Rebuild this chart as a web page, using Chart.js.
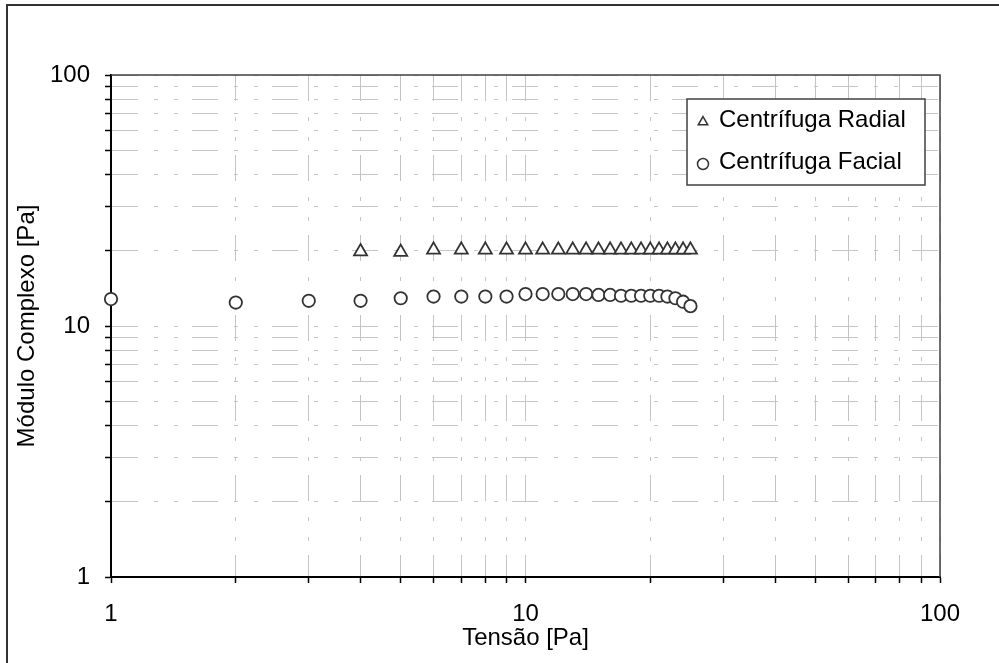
<!DOCTYPE html>
<html>
<head>
<meta charset="utf-8">
<title>Módulo Complexo x Tensão</title>
<script src="https://cdn.jsdelivr.net/npm/chart.js@4.4.1/dist/chart.umd.min.js"></script>
<style>
	html, body { margin: 0; padding: 0; background: #fff; }
	canvas { display: block; }
</style>
</head>
<body>
<canvas id="myChart" width="999" height="663"></canvas>
<script>
// data
var radialTension = [4,5,6,7,8,9,10,11,12,13,14,15,16,17,18,19,20,21,22,23,24,25];
var radialModulo  = [19.8,19.7,20.1,20.1,20.1,20.1,20.1,20.1,20.1,20.1,20.1,20.1,20.1,20.1,20.1,20.1,20.1,20.1,20.1,20.1,20.1,20.1];

var facialTension = [1,2,3,4,5,6,7,8,9,10,11,12,13,14,15,16,17,18,19,20,21,22,23,24,25];
var facialModulo  = [12.8,12.4,12.6,12.6,12.9,13.1,13.1,13.1,13.1,13.4,13.4,13.4,13.4,13.4,13.3,13.3,13.2,13.2,13.2,13.2,13.2,13.1,12.9,12.5,12.0];

var tickValues  = [1,2,3,4,5,6,7,8,9,10,20,30,40,50,60,70,80,90,100];
var tickLabels  = [1,10,100];
var seriesNames = ['Centrífuga Radial','Centrífuga Facial'];

!(function(){
	'use strict';

	var FONT = 'Liberation Sans, Arial, sans-serif';
	var INK = '#333333';

	function toPoints(xs, ys){
		var pts = [];
		for (var i = 0; i < xs.length; i++) {
			pts.push({x: xs[i], y: ys[i]});
		}
		return pts;
	}

	function logTicks(scale){
		scale.ticks = tickValues.map(function(v){ return {value: v}; });
	}

	function tickLabel(value){
		return tickLabels.indexOf(value) > -1 ? String(value) : '';
	}

	var gridDash = [26,16,4,16,4,14];

	// page frame, plot box and legend box
	var framePlugin = {
		id: 'frame',
		afterDraw: function(chart){
			var ctx = chart.ctx, a = chart.chartArea;
			ctx.save();
			ctx.strokeStyle = INK;
			ctx.lineWidth = 2;
			ctx.beginPath();
			ctx.moveTo(7, 663);
			ctx.lineTo(7, 5);
			ctx.lineTo(999, 5);
			ctx.stroke();

			ctx.strokeStyle = '#404040';
			ctx.lineWidth = 1.5;
			ctx.beginPath();
			ctx.moveTo(a.left, a.top);
			ctx.lineTo(a.right, a.top);
			ctx.lineTo(a.right, a.bottom);
			ctx.stroke();

			// legend
			var lx = 687, ly = 99, lw = 238, lh = 86;
			ctx.fillStyle = '#fff';
			ctx.fillRect(lx, ly, lw, lh);
			ctx.strokeStyle = '#404040';
			ctx.lineWidth = 1.5;
			ctx.strokeRect(lx, ly, lw, lh);

			ctx.font = '24px ' + FONT;
			ctx.textBaseline = 'middle';
			ctx.textAlign = 'left';
			chart.data.datasets.forEach(function(ds, i){
				var y = ly + 21 + i * 42;
				ctx.strokeStyle = INK;
				ctx.fillStyle = '#fff';
				ctx.lineWidth = 1.5;
				Chart.helpers.drawPoint(ctx, {pointStyle: ds.pointStyle, radius: 5.5, rotation: 0, borderWidth: 1.5}, 703, y + 2);
				ctx.fillStyle = '#000';
				ctx.fillText(ds.label, 719, y);
			});
			ctx.restore();
		}
	};

	var ctx = document.getElementById('myChart').getContext('2d');
	var myChart = new Chart(ctx, {
		type: 'scatter',
		data: {
			datasets: [{
				label: seriesNames[0],
				data: toPoints(radialTension, radialModulo),
				pointStyle: 'triangle',
				pointRadius: 7.5,
				pointHoverRadius: 7.5,
				pointBorderWidth: 1.8,
				pointBorderColor: INK,
				pointBackgroundColor: '#fff',
				showLine: false,
				clip: false
			}, {
				label: seriesNames[1],
				data: toPoints(facialTension, facialModulo),
				pointStyle: 'circle',
				pointRadius: 6.2,
				pointHoverRadius: 6.2,
				pointBorderWidth: 1.8,
				pointBorderColor: INK,
				pointBackgroundColor: '#fff',
				showLine: false,
				clip: false
			}]
		},
		options: {
			responsive: false,
			animation: false,
			devicePixelRatio: 1,
			layout: { padding: { top: 75, right: 59, left: 0, bottom: 0 } },
			plugins: {
				legend: { display: false },
				tooltip: { enabled: false }
			},
			scales: {
				x: {
					type: 'logarithmic',
					min: 1,
					max: 100,
					afterBuildTicks: logTicks,
					afterFit: function(scale){ scale.height = 86; },
					ticks: {
						callback: tickLabel,
						autoSkip: false,
						maxRotation: 0,
						padding: 17,
						color: '#000',
						font: { family: FONT, size: 24 }
					},
					grid: {
						color: '#c4c4c4',
						lineWidth: 1,
						tickLength: 6,
						tickColor: '#000',
						tickWidth: 1.5,
						tickBorderDash: []
					},
					border: { color: '#000', width: 2, dash: gridDash },
					title: {
						display: true,
						text: 'Tensão [Pa]',
						color: '#000',
						padding: { top: 0, bottom: 10 },
						font: { family: FONT, size: 24 }
					}
				},
				y: {
					type: 'logarithmic',
					min: 1,
					max: 100,
					afterBuildTicks: logTicks,
					afterFit: function(scale){ scale.width = 111; },
					ticks: {
						callback: tickLabel,
						autoSkip: false,
						padding: 15,
						color: '#000',
						font: { family: FONT, size: 24 }
					},
					grid: {
						color: '#c4c4c4',
						lineWidth: 1,
						tickLength: 6,
						tickColor: '#000',
						tickWidth: 1.5,
						tickBorderDash: []
					},
					border: { color: '#000', width: 2, dash: gridDash },
					title: {
						display: true,
						text: 'Módulo Complexo [Pa]',
						color: '#000',
						padding: { top: 13, bottom: 0 },
						font: { family: FONT, size: 24 }
					}
				}
			}
		},
		plugins: [framePlugin]
	});
})();
</script>
</body>
</html>
